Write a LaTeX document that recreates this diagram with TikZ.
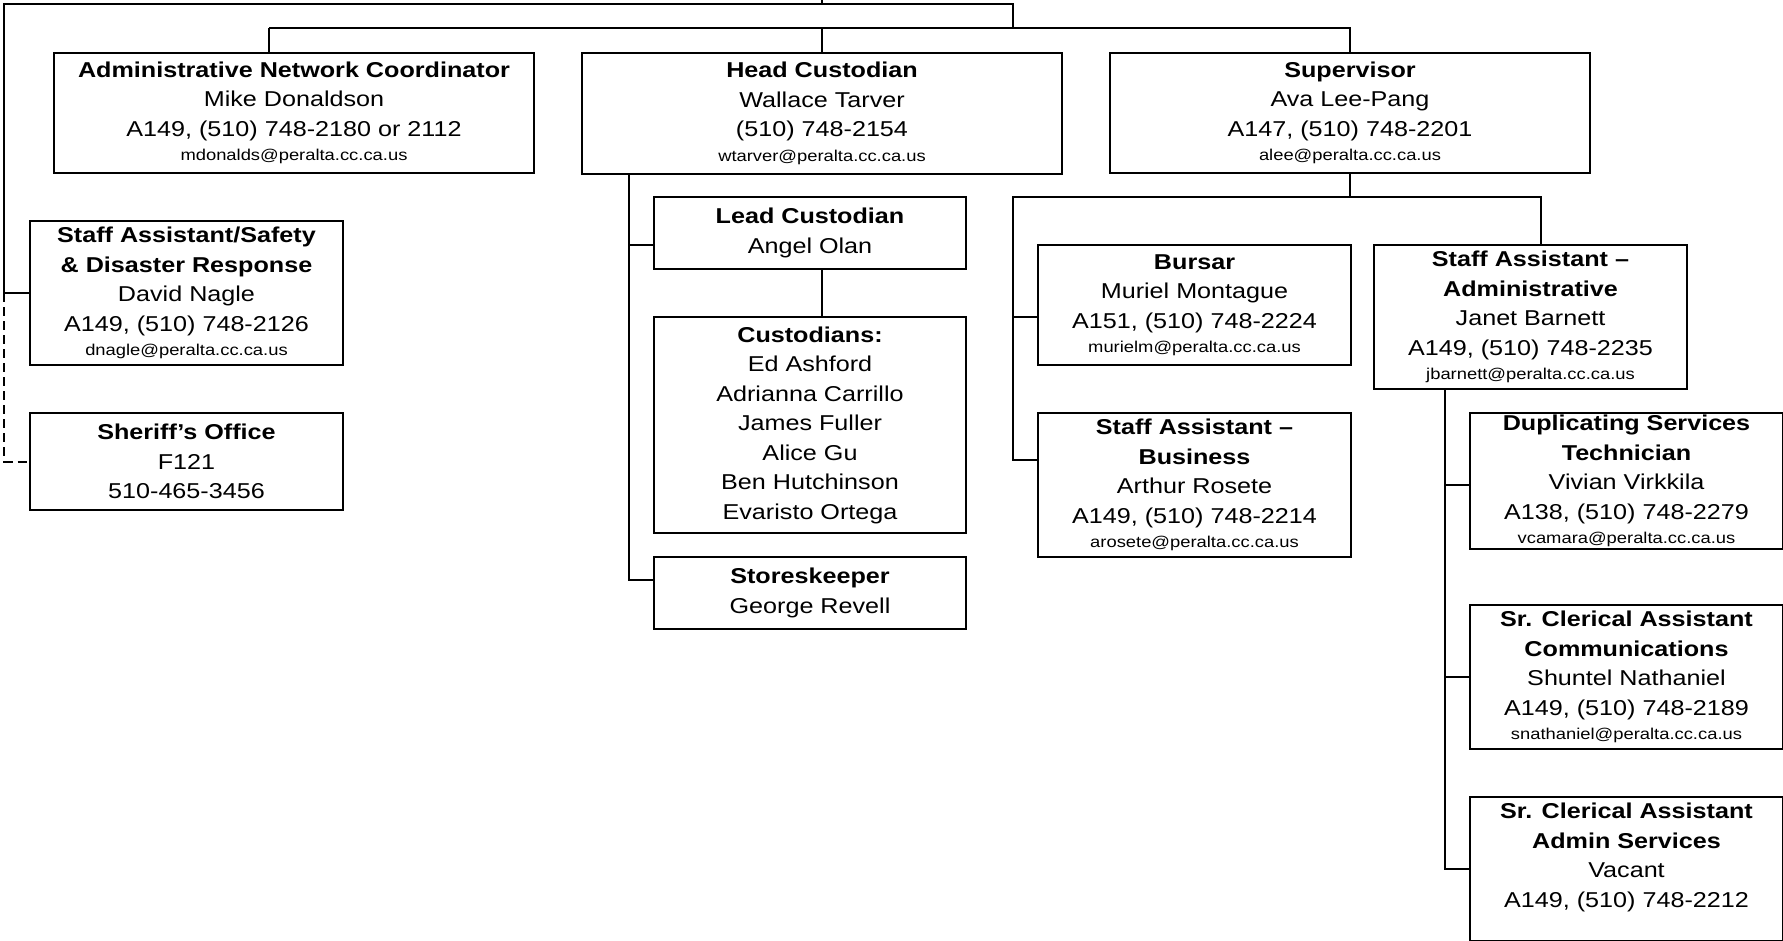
\documentclass[tikz,border=0pt]{standalone}
\usepackage{fontspec}
\setmainfont{Liberation Sans}[FakeStretch=1.17]
\newcommand\eml[1]{{\fontsize{15.7}{18}\selectfont #1}}
\begin{document}
\begin{tikzpicture}[x=1pt,y=-1pt,
  box/.style={draw, line width=2pt, anchor=north west, inner sep=0pt, align=center,
              font=\fontsize{21.5}{29.5}\selectfont},
  conn/.style={line width=2pt},
  dconn/.style={line width=2pt, dash pattern=on 9pt off 5pt}]
\path[fill=white, use as bounding box] (0,0) rectangle (1783,940);

% boxes
\node[box, minimum width=480pt, minimum height=120pt] (anc) at (53,52)
  {\textbf{Administrative Network Coordinator}\\ Mike Donaldson\\ A149, (510) 748-2180 or 2112\\[-5pt] \eml{mdonalds@peralta.cc.ca.us}};
\node[box, minimum width=480pt, minimum height=121pt] (hc) at (581,52)
  {\textbf{Head Custodian}\\ Wallace Tarver\\ (510) 748-2154\\[-5pt] \eml{wtarver@peralta.cc.ca.us}};
\node[box, minimum width=480pt, minimum height=120pt] (sup) at (1109,52)
  {\textbf{Supervisor}\\ Ava Lee-Pang\\ A147, (510) 748-2201\\[-5pt] \eml{alee@peralta.cc.ca.us}};
\node[box, minimum width=313pt, minimum height=144pt] (sas) at (29,220)
  {\textbf{Staff Assistant/Safety}\\ \textbf{\& Disaster Response}\\ David Nagle\\ A149, (510) 748-2126\\[-5pt] \eml{dnagle@peralta.cc.ca.us}};
\node[box, minimum width=313pt, minimum height=97pt] (sher) at (29,412)
  {\textbf{Sheriff’s Office}\\ F121\\ 510-465-3456};
\node[box, minimum width=312pt, minimum height=72pt] (lead) at (653,196)
  {\textbf{Lead Custodian}\\ Angel Olan};
\node[box, minimum width=312pt, minimum height=216pt] (cust) at (653,316)
  {\textbf{Custodians:}\\ Ed Ashford\\ Adrianna Carrillo\\ James Fuller\\ Alice Gu\\ Ben Hutchinson\\ Evaristo Ortega};
\node[box, minimum width=312pt, minimum height=72pt] (store) at (653,556)
  {\textbf{Storeskeeper}\\ George Revell};
\node[box, minimum width=313pt, minimum height=120pt] (bursar) at (1037,244)
  {\textbf{Bursar}\\ Muriel Montague\\ A151, (510) 748-2224\\[-5pt] \eml{murielm@peralta.cc.ca.us}};
\node[box, minimum width=313pt, minimum height=144pt] (sab) at (1037,412)
  {\textbf{Staff Assistant –}\\ \textbf{Business}\\ Arthur Rosete\\ A149, (510) 748-2214\\[-5pt] \eml{arosete@peralta.cc.ca.us}};
\node[box, minimum width=313pt, minimum height=144pt] (saa) at (1373,244)
  {\textbf{Staff Assistant –}\\ \textbf{Administrative}\\ Janet Barnett\\ A149, (510) 748-2235\\[-5pt] \eml{jbarnett@peralta.cc.ca.us}};
\node[box, minimum width=313pt, minimum height=136pt] (dup) at (1469,412)
  {\textbf{Duplicating Services}\\ \textbf{Technician}\\ Vivian Virkkila\\ A138, (510) 748-2279\\[-5pt] \eml{vcamara@peralta.cc.ca.us}};
\node[box, minimum width=313pt, minimum height=144pt] (scc) at (1469,604)
  {\textbf{Sr. Clerical Assistant}\\ \textbf{Communications}\\ Shuntel Nathaniel\\ A149, (510) 748-2189\\[-5pt] \eml{snathaniel@peralta.cc.ca.us}};
\node[box, minimum width=313pt, minimum height=144pt] (sca) at (1469,796)
  {\textbf{Sr. Clerical Assistant}\\ \textbf{Admin Services}\\ Vacant\\ A149, (510) 748-2212\\[-5pt] \eml{\vphantom{p}}};

% connector coordinates
\coordinate (root) at (822,0);
\coordinate (L) at (4,4);
\coordinate (R) at (1013,28);
\coordinate (ancdrop) at (269,28);
\coordinate (hcx) at (629,0);
\coordinate (B3) at (1013,197);
\coordinate (saadrop) at (1541,197);
\coordinate (saax) at (1445,0);

% connectors
\draw[conn] (root) |- (L) |- (sas.west);
\draw[dconn] (L |- sas.west) |- (sher.west);
\draw[conn] (root |- L) -| (R);
\draw[conn] (ancdrop) -- (ancdrop |- anc.north);
\draw[conn] (ancdrop) -| (hc.north);
\draw[conn] (hc.north |- ancdrop) -| (sup.north);
\draw[conn] (hc.south -| hcx) |- ([yshift=-12pt]lead.west);
\draw[conn] (hc.south -| hcx) |- ([yshift=13pt]store.west);
\draw[conn] (lead.south -| hc.north) -- (cust.north -| hc.north);
\draw[conn] (sup.south) |- (B3) |- ([yshift=-12pt]bursar.west);
\draw[conn] (B3) |- ([yshift=25pt]sab.west);
\draw[conn] (sup.south |- B3) -- (saadrop) -- (saadrop |- saa.north);
\draw[conn] (saa.south -| saax) |- ([yshift=-4pt]dup.west);
\draw[conn] (saa.south -| saax) |- (scc.west);
\draw[conn] (saa.south -| saax) |- (sca.west);
\end{tikzpicture}
\end{document}
